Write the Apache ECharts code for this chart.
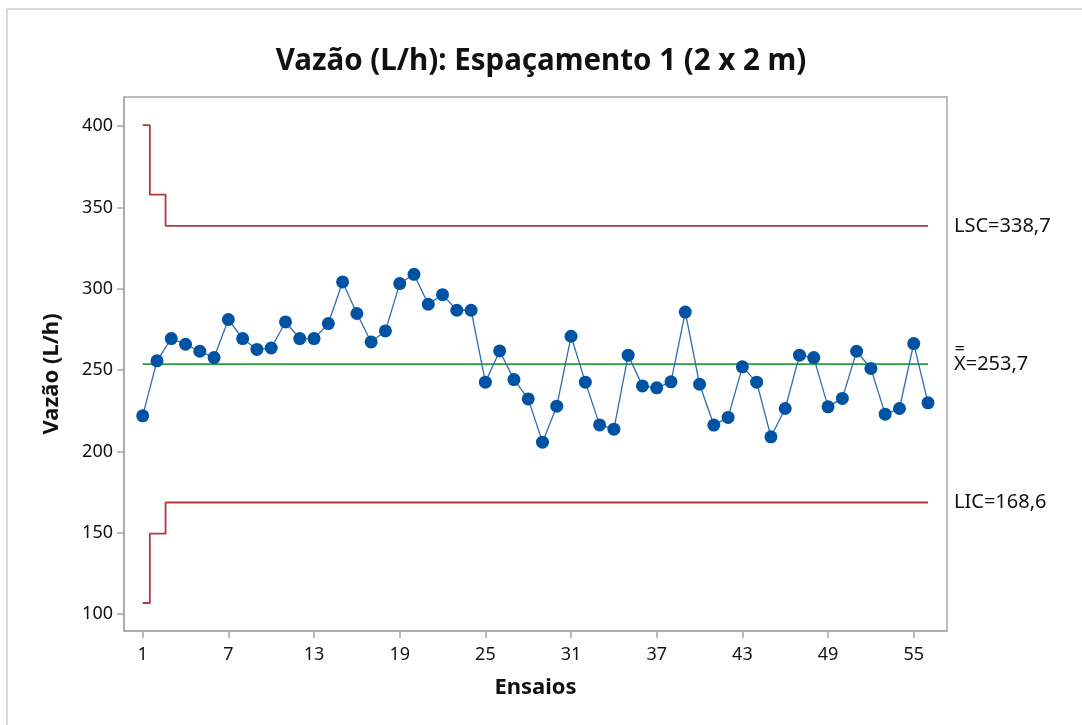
<!DOCTYPE html>
<html>
<head>
<meta charset="utf-8">
<title>Vazão (L/h): Espaçamento 1 (2 x 2 m)</title>
<script src="https://cdn.jsdelivr.net/npm/echarts@6/dist/echarts.min.js"></script>
<style>
  html, body { margin: 0; padding: 0; background: #ffffff; }
  #chart { width: 1082px; height: 725px; }
</style>
</head>
<body>
<div id="chart"></div>
<script>
// Individual flow readings (L/h), one per trial
const ensaios = Array.from({ length: 56 }, (_, i) => i + 1);
const vazao = [
  221.9, 255.7, 269.4, 265.9, 261.6, 257.7, 281.1, 269.4, 262.7, 263.6,
  279.6, 269.4, 269.4, 278.6, 304.2, 284.8, 267.3, 274.1, 303.2, 308.9,
  290.5, 296.4, 286.8, 286.8, 242.6, 261.8, 244.2, 232.3, 205.7, 227.8,
  270.8, 242.6, 216.3, 213.7, 259.2, 240.3, 239.1, 242.8, 285.7, 241.3,
  216.2, 220.9, 252.0, 242.6, 209.0, 226.4, 259.2, 257.7, 227.4, 232.6,
  261.6, 251.0, 222.9, 226.4, 266.3, 229.9
];

// Control limits: the first trials have their own limits, then they settle
const limitBreaks = [1, 1.5, 2.6, 56];
const lscValues = [400.6, 357.9, 338.7];
const licValues = [106.8, 149.5, 168.6];
const media = 253.7;

// Axis tick labels
const xTicks = [1, 7, 13, 19, 25, 31, 37, 43, 49, 55];
const yTicks = [100, 150, 200, 250, 300, 350, 400];

const FONT = 'Noto Sans';
const INK = '#111111';
const AXIS_GREY = '#a6a6a6';

function stepPoints(values) {
  const pts = [];
  values.forEach((v, i) => {
    pts.push([limitBreaks[i], v]);
    pts.push([limitBreaks[i + 1], v]);
  });
  return pts;
}

function fmt(v) {
  return v.toFixed(1).replace('.', ',');
}

const chart = echarts.init(document.getElementById('chart'), null, { renderer: 'canvas' });

const endLabelStyle = {
  show: true,
  distance: 26,
  color: INK,
  fontFamily: FONT,
  fontSize: 20
};

chart.setOption({
  backgroundColor: '#ffffff',
  animation: false,
  title: {
    text: 'Vazão (L/h): Espaçamento 1 (2 x 2 m)',
    left: 'center',
    top: 42,
    textStyle: { fontFamily: FONT, fontSize: 29.5, fontWeight: 'bold', color: INK }
  },
  graphic: [
    { type: 'line', shape: { x1: 7, y1: 9, x2: 7, y2: 725 }, style: { stroke: '#d9d9d9', lineWidth: 2 } },
    { type: 'line', shape: { x1: 7, y1: 9, x2: 1082, y2: 9 }, style: { stroke: '#d9d9d9', lineWidth: 2 } }
  ],
  grid: {
    left: 124, right: 135, top: 97, bottom: 94,
    show: true, borderColor: AXIS_GREY, borderWidth: 1.5, backgroundColor: '#ffffff'
  },
  xAxis: {
    type: 'value',
    min: -0.31,
    max: 57.33,
    name: 'Ensaios',
    nameLocation: 'middle',
    nameGap: 46,
    nameTextStyle: { fontFamily: FONT, fontSize: 22, fontWeight: 'bold', color: INK },
    axisLine: { show: true, onZero: false, lineStyle: { color: AXIS_GREY, width: 1.5 } },
    axisTick: { show: true, customValues: xTicks, length: 7, lineStyle: { color: AXIS_GREY, width: 1.5 } },
    axisLabel: { customValues: xTicks, margin: 15, fontFamily: FONT, fontSize: 18, color: INK },
    splitLine: { show: false }
  },
  yAxis: {
    type: 'value',
    min: 89.6,
    max: 417.9,
    name: 'Vazão (L/h)',
    nameLocation: 'middle',
    nameGap: 61,
    nameTextStyle: { fontFamily: FONT, fontSize: 22, fontWeight: 'bold', color: INK, padding: [0, 20, 0, 0] },
    axisLine: { show: true, onZero: false, lineStyle: { color: AXIS_GREY, width: 1.5 } },
    axisTick: { show: true, customValues: yTicks, length: 7, lineStyle: { color: AXIS_GREY, width: 1.5 } },
    axisLabel: { customValues: yTicks, margin: 11, fontFamily: FONT, fontSize: 18, color: INK },
    splitLine: { show: false }
  },
  series: [
    {
      name: 'LSC',
      type: 'line',
      data: stepPoints(lscValues),
      symbol: 'none',
      lineStyle: { color: '#b03a3a', width: 1.8 },
      endLabel: Object.assign({}, endLabelStyle, { formatter: () => 'LSC=' + fmt(lscValues[lscValues.length - 1]) }),
      z: 2
    },
    {
      name: 'LIC',
      type: 'line',
      data: stepPoints(licValues),
      symbol: 'none',
      lineStyle: { color: '#b03a3a', width: 1.8 },
      endLabel: Object.assign({}, endLabelStyle, { formatter: () => 'LIC=' + fmt(licValues[licValues.length - 1]) }),
      z: 2
    },
    {
      name: 'Média',
      type: 'line',
      data: [[ensaios[0], media], [ensaios[ensaios.length - 1], media]],
      symbol: 'none',
      lineStyle: { color: '#2e9a3c', width: 1.8 },
      endLabel: Object.assign({}, endLabelStyle, { formatter: () => 'X\u033F=' + fmt(media) }),
      z: 2
    },
    {
      name: 'Vazão',
      type: 'line',
      data: ensaios.map((x, i) => [x, vazao[i]]),
      symbol: 'circle',
      symbolSize: 13,
      itemStyle: { color: '#0052a3' },
      lineStyle: { color: '#2f6db5', width: 1.3 },
      z: 3
    }
  ]
});
</script>
</body>
</html>
